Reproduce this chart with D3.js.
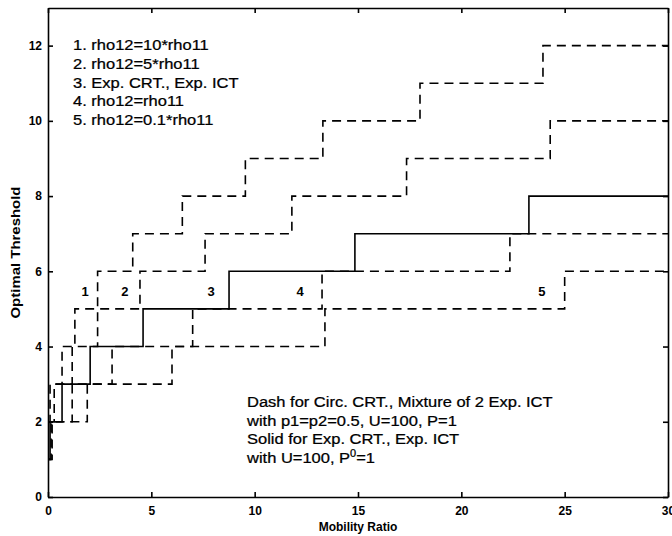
<!DOCTYPE html>
<html>
<head>
<meta charset="utf-8">
<script src="https://cdn.jsdelivr.net/npm/d3@7"></script>
<style>
  body { margin: 0; background: #fff; }
  svg { display: block; }
  .axis path, .axis line { stroke: #000; stroke-width: 1.6px; }
  .axis text { font-family: "Liberation Sans", Arial, sans-serif; font-size: 12px; font-weight: bold; fill: #000; }
  .note { font-family: "Liberation Sans", Arial, sans-serif; font-size: 15px; fill: #000; stroke: #000; stroke-width: 0.25px; }
  .title { font-family: "Liberation Sans", Arial, sans-serif; font-weight: bold; fill: #000; }
</style>
</head>
<body>
<div id="chart"></div>
<script>
// axis ranges and ticks
var xTicks = [0, 5, 10, 15, 20, 25, 30];
var yTicks = [0, 2, 4, 6, 8, 10, 12];

// each curve: x where a new level begins, and the level
var curve1Jumps = [0, 0.1, 0.68, 1.3, 2.4, 4.1, 6.5, 9.55, 13.3, 18.0, 23.95];
var curve1Levels = [2, 3, 4, 5, 6, 7, 8, 9, 10, 11, 12];
var curve2Jumps = [0, 0.3, 1.17, 2.4, 4.45, 7.6, 11.8, 17.35, 24.3];
var curve2Levels = [2, 3, 4, 5, 6, 7, 8, 9, 10];
var curve3Jumps = [0, 0.1, 0.68, 2.04, 4.6, 8.76, 14.85, 23.27];
var curve3Levels = [1, 2, 3, 4, 5, 6, 7, 8];
var curve4Jumps = [0, 0.15, 1.17, 3.1, 7.0, 13.26, 22.35];
var curve4Levels = [1, 2, 3, 4, 5, 6, 7];
var curve5Jumps = [0, 0.2, 1.9, 6.0, 13.4, 25.0];
var curve5Levels = [1, 2, 3, 4, 5, 6];

// curve number labels
var labelNames = ["1", "2", "3", "4", "5"];
var labelX = [1.79, 3.72, 7.89, 12.2, 23.9];
var labelY = 5.47;

var legendLines = ["1. rho12=10*rho11", "2. rho12=5*rho11", "3. Exp. CRT., Exp. ICT", "4. rho12=rho11", "5. rho12=0.1*rho11"];
var noteLines = ["Dash for Circ. CRT., Mixture of 2 Exp. ICT", "with p1=p2=0.5, U=100, P=1", "Solid for Exp. CRT., Exp. ICT"];

var width = 672, height = 536;
var plotLeft = 48, plotRight = 668, plotTop = 8, plotBottom = 497;

var svg = d3.select("#chart").append("svg")
    .attr("width", width)
    .attr("height", height);

var x = d3.scaleLinear().domain([0, 30]).range([plotLeft, plotRight]);
var y = d3.scaleLinear().domain([0, 13]).range([plotBottom, plotTop]);

function steps(jumps, levels) {
    var pts = jumps.map(function(j, i) { return [j, levels[i]]; });
    pts.push([30, levels[levels.length - 1]]);
    return pts;
}

var line = d3.line()
    .x(d => x(d[0]))
    .y(d => y(d[1]))
    .curve(d3.curveStepAfter);

var curves = [
    {pts: steps(curve1Jumps, curve1Levels), dash: true},
    {pts: steps(curve2Jumps, curve2Levels), dash: true},
    {pts: steps(curve4Jumps, curve4Levels), dash: true},
    {pts: steps(curve5Jumps, curve5Levels), dash: true},
    {pts: steps(curve3Jumps, curve3Levels), dash: false}
];

svg.append("g").selectAll("path")
    .data(curves).enter()
    .append("path")
    .attr("d", d => line(d.pts))
    .attr("fill", "none")
    .attr("stroke", "#000")
    .attr("stroke-width", 1.6)
    .attr("stroke-dasharray", d => d.dash ? "9,6" : null);

/* axes, ticks pointing inward on all four sides */
svg.append("g")
    .attr("class", "axis")
    .attr("transform", `translate(0, ${plotBottom})`)
    .call(d3.axisBottom(x).tickValues(xTicks).tickSizeInner(-5).tickSizeOuter(0).tickPadding(9));
svg.append("g")
    .attr("class", "axis")
    .attr("transform", `translate(0, ${plotTop})`)
    .call(d3.axisTop(x).tickValues(xTicks).tickSizeInner(-5).tickSizeOuter(0).tickFormat(""));
svg.append("g")
    .attr("class", "axis")
    .attr("transform", `translate(${plotLeft}, 0)`)
    .call(d3.axisLeft(y).tickValues(yTicks).tickSizeInner(-5).tickSizeOuter(0).tickPadding(6));
svg.append("g")
    .attr("class", "axis")
    .attr("transform", `translate(${plotRight}, 0)`)
    .call(d3.axisRight(y).tickValues(yTicks).tickSizeInner(-5).tickSizeOuter(0).tickFormat(""));

// axis titles
svg.append("text")
    .attr("class", "title")
    .attr("transform", `translate(${(plotLeft + plotRight) / 2}, 531)`)
    .attr("text-anchor", "middle")
    .style("font-size", "12px")
    .text("Mobility Ratio");
svg.append("text")
    .attr("class", "title")
    .attr("transform", `translate(20, ${(plotTop + plotBottom) / 2}) rotate(-90) scale(1.15,1)`)
    .attr("text-anchor", "middle")
    .style("font-size", "13px")
    .text("Optimal Threshold");

// curve labels
svg.append("g").selectAll("text")
    .data(labelNames).enter()
    .append("text")
    .attr("class", "title")
    .attr("x", (d, i) => x(labelX[i]))
    .attr("y", y(labelY) + 5)
    .attr("text-anchor", "middle")
    .style("font-size", "13px")
    .text(d => d);

// legend text, upper left
svg.append("g").selectAll("text")
    .data(legendLines).enter()
    .append("text")
    .attr("class", "note")
    .attr("transform", (d, i) => `translate(73, ${50 + i * 18.75}) scale(1.1,1)`)
    .text(d => d);

// description, lower right
var notes = svg.append("g");
notes.selectAll("text")
    .data(noteLines).enter()
    .append("text")
    .attr("class", "note")
    .attr("transform", (d, i) => `translate(247, ${407 + i * 18.5}) scale(1.1,1)`)
    .text(d => d);
var last = notes.append("text")
    .attr("class", "note")
    .attr("transform", `translate(247, ${407 + 3 * 18.5}) scale(1.1,1)`);
last.append("tspan").text("with U=100, P");
last.append("tspan").attr("dy", -6).style("font-size", "10px").text("0");
last.append("tspan").attr("dy", 6).text("=1");
</script>
</body>
</html>
